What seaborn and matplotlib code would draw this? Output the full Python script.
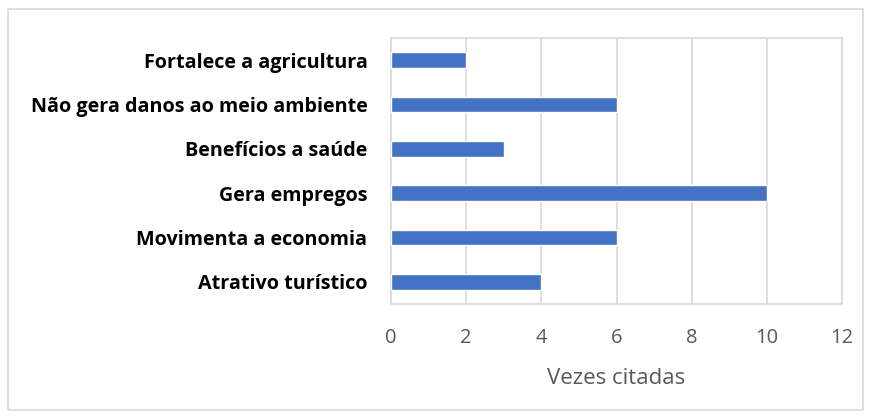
import matplotlib
matplotlib.use('Agg')
import matplotlib.pyplot as plt
import seaborn as sns
import pandas as pd
from matplotlib.patches import Rectangle

categories = ['Fortalece a agricultura', 'Não gera danos ao meio ambiente',
              'Benefícios a saúde', 'Gera empregos', 'Movimenta a economia',
              'Atrativo turístico']
values = [2, 6, 3, 10, 6, 4]
x_ticks = [0, 2, 4, 6, 8, 10, 12]

sns.set_style('white')
plt.rcParams['font.family'] = ['Open Sans', 'DejaVu Sans']

df = pd.DataFrame({'motivo': categories, 'vezes': values})

W, H = 871, 419
fig = plt.figure(figsize=(W / 100, H / 100), dpi=100)
ax = fig.add_axes([391 / W, 1 - 304 / H, (842 - 391) / W, (304 - 38) / H])

sns.barplot(data=df, x='vezes', y='motivo', orient='h', color='#4472C4',
            width=0.36, saturation=1, ax=ax, zorder=3)

ax.set_xlim(0, 12)
ax.set_xticks(x_ticks)
ax.grid(axis='x', color='#D9D9D9', linewidth=1.2, zorder=0)
for s in ax.spines.values():
    s.set_color('#D9D9D9')
    s.set_linewidth(1.2)
ax.tick_params(axis='x', length=0, pad=17, labelsize=14.5, labelcolor='#595959')
ax.tick_params(axis='y', length=0, pad=17, labelsize=14.2, labelcolor='black')
for lbl in ax.get_yticklabels():
    lbl.set_fontweight('bold')
ax.set_ylabel('')
ax.set_xlabel('Vezes citadas', fontsize=16, color='#595959', labelpad=15)

fig.patches.append(Rectangle((8 / W, 1 - 410 / H), 855 / W, 401 / H,
                             transform=fig.transFigure, fill=False,
                             edgecolor='#D9D9D9', linewidth=1.2))

fig.savefig('out.png', dpi=100, facecolor='white')
